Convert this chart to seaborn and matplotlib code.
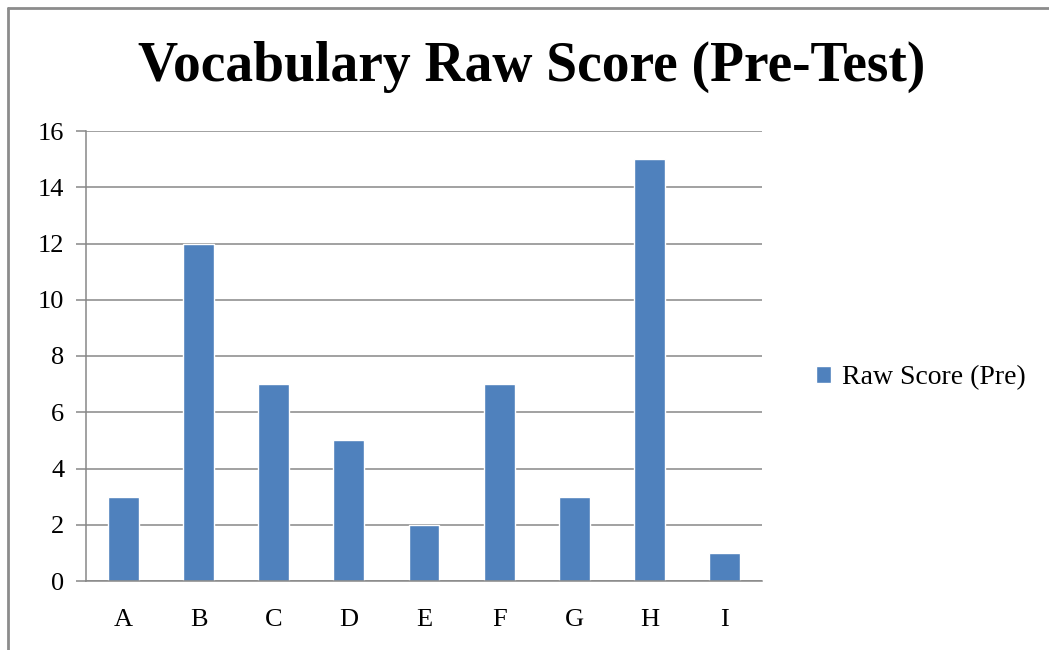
"""Vocabulary raw score (pre-test) bar chart."""

import matplotlib

matplotlib.use("Agg")

import matplotlib.pyplot as plt
import pandas as pd
import seaborn as sns
from matplotlib.lines import Line2D
from matplotlib.ticker import FixedLocator, MultipleLocator

students = ["A", "B", "C", "D", "E", "F", "G", "H", "I"]
raw_scores = [3, 12, 7, 5, 2, 7, 3, 15, 1]
series_name = "Raw Score (Pre)"
title = "Vocabulary Raw Score (Pre-Test)"

BAR_COLOR = "#4F81BD"
GRID_COLOR = "#878787"
SERIF = ["Liberation Serif", "DejaVu Serif"]

df = pd.DataFrame({"student": students, "score": raw_scores})

sns.set_style("white")
plt.rcParams["font.family"] = SERIF
plt.rcParams["text.color"] = "black"

fig = plt.figure(figsize=(10.49, 6.5), dpi=100)
ax = fig.add_axes([86 / 1049, 69 / 650, 676 / 1049, 450 / 650])

sns.barplot(
    data=df,
    x="student",
    y="score",
    color=BAR_COLOR,
    width=0.41,
    saturation=1,
    label=series_name,
    ax=ax,
)

ax.set_xlim(-0.5, len(students) - 0.5)
ax.set_ylim(0, 16)
ax.yaxis.set_major_locator(MultipleLocator(2))
ax.grid(axis="y", color=GRID_COLOR, linewidth=1.1)
ax.set_axisbelow(True)
ax.set_xlabel("")
ax.set_ylabel("")

for side in ["top", "right"]:
    ax.spines[side].set_visible(False)
for side in ["left", "bottom"]:
    ax.spines[side].set_color(GRID_COLOR)
    ax.spines[side].set_linewidth(1.1)

# category boundaries get the tick marks, labels sit in the middle
ax.xaxis.set_minor_locator(FixedLocator([i - 0.5 for i in range(len(students) + 1)]))
ax.tick_params(axis="x", which="major", length=0, pad=20)
ax.tick_params(axis="x", which="minor", length=7.5, width=1.1, color=GRID_COLOR, direction="out")
ax.tick_params(axis="y", which="major", length=7.5, width=1.1, color=GRID_COLOR,
               direction="out", pad=8, left=True)

for lbl in ax.get_xticklabels() + ax.get_yticklabels():
    lbl.set_fontfamily(SERIF)
    lbl.set_fontsize(19)
    lbl.set_color("black")

ax.legend(
    loc="center left",
    bbox_to_anchor=(805 / 1049, 1 - 378 / 650),
    bbox_transform=fig.transFigure,
    frameon=False,
    prop={"family": SERIF, "size": 20},
    labelcolor="black",
    handlelength=0.55,
    handleheight=0.55,
    handletextpad=0.4,
    borderaxespad=0,
)

fig.text(532 / 1049, 1 - 67 / 650, title, ha="center", va="center",
         fontsize=40, fontweight="bold", family=SERIF, color="black")

# chart-area frame (left and top edges visible in the crop)
fig.add_artist(Line2D([8 / 1049, 8 / 1049], [0, 1 - 8 / 650],
                      transform=fig.transFigure, color="#8c8c8c", linewidth=2))
fig.add_artist(Line2D([8 / 1049, 1], [1 - 8 / 650, 1 - 8 / 650],
                      transform=fig.transFigure, color="#8c8c8c", linewidth=2))

fig.savefig("out.png", dpi=100)
